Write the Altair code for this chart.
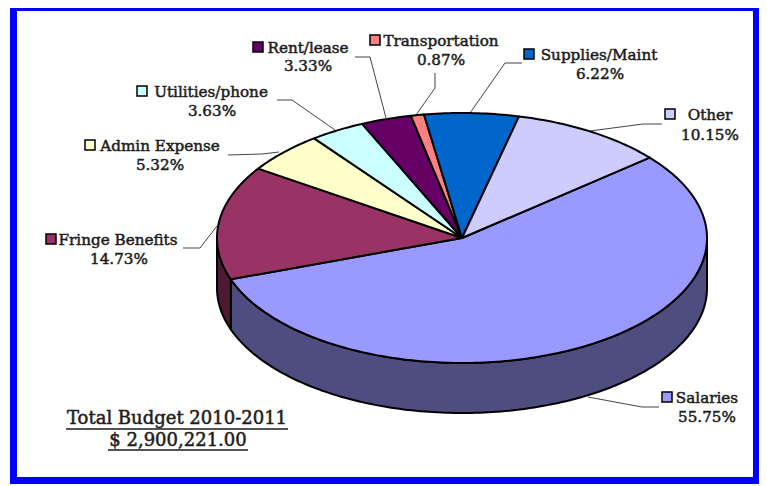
import math
import altair as alt
import pandas as pd

# ---- chart values
categories = ["Salaries", "Fringe Benefits", "Admin Expense", "Utilities/phone",
              "Rent/lease", "Transportation", "Supplies/Maint", "Other"]
shares = [55.75, 14.73, 5.32, 3.63, 3.33, 0.87, 6.22, 10.15]
share_labels = ["55.75%", "14.73%", "5.32%", "3.63%", "3.33%", "0.87%", "6.22%", "10.15%"]
slice_colors = ["#9999ff", "#993366", "#ffffcc", "#ccffff", "#660066", "#ff8080", "#0066cc", "#ccccff"]
wall_colors = {"Salaries": "#4d4d80", "Fringe Benefits": "#4d1a33"}
budget_title = "Total Budget 2010-2011"
budget_total = "$ 2,900,221.00"

# ---- layout (reference pixels)
CX, CY, RX, RY, DEPTH, START = 462, 238, 245, 125, 50, 50.0
name_x = [707, 118, 160, 211, 308, 441, 599, 710]
name_y = [398, 240, 146, 92, 48, 41, 55, 115]
pct_x = [707, 119, 160, 212, 308, 441, 600, 710]
pct_y = [417, 259, 165, 111, 66, 60, 74, 135]
swatch_x = [667, 51, 90, 142, 258, 375, 529, 670]
swatch_y = [397, 239, 145, 91, 47, 40, 54, 114]
leaders = [
    [(659, 407), (642, 407), (588, 397)],
    [(183, 248), (200, 248), (217, 226)],
    [(228, 155), (262, 154), (279, 152)],
    [(277, 100), (292, 100), (335, 130)],
    [(355, 57), (370, 57), (386, 118)],
    [(435, 73), (435, 88), (416, 115)],
    [(522, 63), (505, 63), (470, 113)],
    [(662, 124), (643, 124), (590, 131)],
]
FONT = "DejaVu Serif"
FS = 15.2
INK = "#1c1c1c"


def pt(deg, dy=0):
    a = math.radians(deg)
    return CX + RX * math.sin(a), CY - RY * math.cos(a) + dy


def arc(a, b, dy=0):
    n = max(2, int(abs(b - a)) + 2)
    return [pt(a + (b - a) * k / (n - 1), dy) for k in range(n)]


tops, walls = [], []
ang = START
for cat, s, col in zip(categories, shares, slice_colors):
    end = ang + s * 3.6
    ring = [(CX, CY)] + arc(ang, end) + [(CX, CY)]
    tops += [dict(k=cat, i=i, x=p[0], y=p[1], c=col) for i, p in enumerate(ring)]
    lo, hi = max(ang, 90), min(end, 270)
    if hi > lo:
        ring = arc(lo, hi) + arc(hi, lo, DEPTH)
        ring.append(ring[0])
        walls += [dict(k=cat, i=i, x=p[0], y=p[1], c=wall_colors[cat]) for i, p in enumerate(ring)]
    ang = end

xs = alt.Scale(domain=[8, 759], range=[0, 751], nice=False, zero=False)
ys = alt.Scale(domain=[486, 8], nice=False, zero=False)
X = lambda f="x": alt.X(f"{f}:Q", scale=xs, axis=None)
Y = lambda f="y": alt.Y(f"{f}:Q", scale=ys, axis=None)


def poly(rows):
    return alt.Chart(pd.DataFrame(rows)).mark_line(
        stroke="black", strokeWidth=2, strokeJoin="round", fillOpacity=1
    ).encode(X(), Y(), detail="k:N", order="i:Q",
             fill=alt.Fill("c:N", scale=None, legend=None))


frame = pd.DataFrame({"x": [10, 10, 10, 753], "x2": [17, 759, 759, 759],
                      "y": [8, 477, 8, 8], "y2": [484, 484, 11, 484]})
frame_l = alt.Chart(frame).mark_rect(color="#0000ff").encode(
    X(), alt.X2("x2:Q"), Y(), alt.Y2("y2:Q"))

lead_rows = []
for cat, seg in zip(categories, leaders):
    lead_rows += [dict(k=cat, i=i, x=p[0], y=p[1]) for i, p in enumerate(seg)]
lead_l = alt.Chart(pd.DataFrame(lead_rows)).mark_line(color="#444444", strokeWidth=1).encode(
    X(), Y(), detail="k:N", order="i:Q")

sw = pd.DataFrame({"x": swatch_x, "y": swatch_y, "c": slice_colors})
sw_l = alt.Chart(sw).mark_square(size=100, stroke="black", strokeWidth=1.5, opacity=1).encode(
    X(), Y(), fill=alt.Fill("c:N", scale=None, legend=None))

txt = pd.DataFrame({"x": name_x + pct_x, "y": name_y + pct_y, "t": categories + share_labels})
txt_l = alt.Chart(txt).mark_text(font=FONT, fontSize=FS, color=INK, stroke=INK, strokeWidth=0.5,
                                 baseline="middle").encode(X(), Y(), text="t:N")

tot = pd.DataFrame({"x": [177, 178], "y": [419, 441], "t": [budget_title, budget_total]})
tot_l = alt.Chart(tot).mark_text(font=FONT, fontSize=18, color=INK, stroke=INK, strokeWidth=0.5,
                                 baseline="middle").encode(X(), Y(), text="t:N")
und = pd.DataFrame({"x": [66, 108], "x2": [288, 248], "y": [429, 450]})
und_l = alt.Chart(und).mark_rule(color=INK, strokeWidth=1.3).encode(X(), alt.X2("x2:Q"), Y())

chart = alt.layer(frame_l, lead_l, poly(walls), poly(tops), sw_l, txt_l, tot_l, und_l).properties(
    width=751, height=478, padding=0, background="white",
    autosize=alt.AutoSizeParams(type="none")
).configure_view(stroke=None)

chart.save("out.html", embed_options={"renderer": "svg", "actions": False})
